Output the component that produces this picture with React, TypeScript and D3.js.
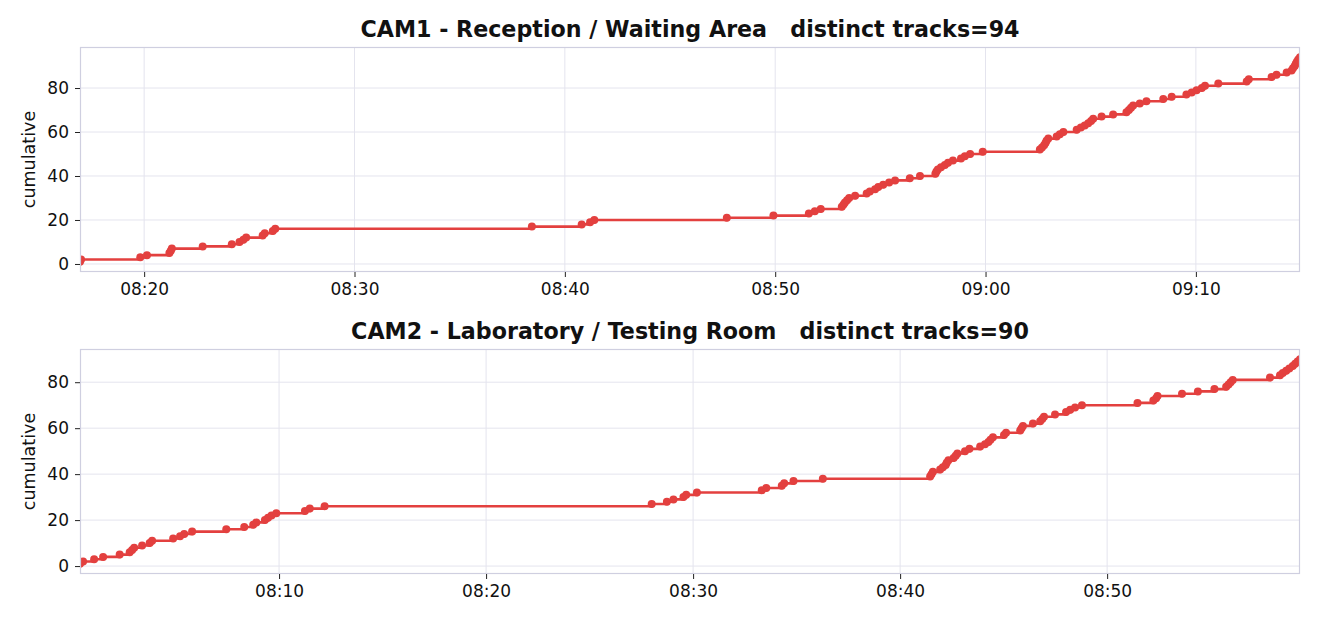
import { useEffect, useRef } from 'react';
import * as d3 from 'd3';

// event times (cumulative count = index + 1)
const CAM1_TITLE = 'CAM1 - Reception / Waiting Area   distinct tracks=94';
const CAM1_TIMES = [
  '08:16:57', '08:17:00', '08:19:49', '08:20:08', '08:21:12', '08:21:16', '08:21:19', '08:22:47',
  '08:24:10', '08:24:32', '08:24:43', '08:24:51', '08:25:38', '08:25:44', '08:26:07', '08:26:14',
  '08:38:26', '08:40:48', '08:41:12', '08:41:24', '08:47:42', '08:49:55', '08:51:36', '08:51:53',
  '08:52:10', '08:53:10', '08:53:15', '08:53:19', '08:53:25', '08:53:31', '08:53:48', '08:54:21',
  '08:54:30', '08:54:45', '08:54:54', '08:55:08', '08:55:25', '08:55:42', '08:56:24', '08:56:53',
  '08:57:37', '08:57:40', '08:57:44', '08:57:53', '08:58:04', '08:58:13', '08:58:27', '08:58:50',
  '08:59:01', '08:59:16', '08:59:52', '09:02:35', '09:02:41', '09:02:47', '09:02:51', '09:02:54',
  '09:02:59', '09:03:23', '09:03:32', '09:03:42', '09:04:20', '09:04:32', '09:04:43', '09:04:53',
  '09:05:01', '09:05:07', '09:05:31', '09:06:04', '09:06:42', '09:06:49', '09:06:55', '09:07:01',
  '09:07:20', '09:07:39', '09:08:27', '09:08:51', '09:09:33', '09:09:48', '09:10:02', '09:10:17',
  '09:10:26', '09:11:04', '09:12:25', '09:12:31', '09:13:36', '09:13:50', '09:14:19', '09:14:33',
  '09:14:37', '09:14:42', '09:14:45', '09:14:48', '09:14:52', '09:14:57',
];

const CAM2_TITLE = 'CAM2 - Laboratory / Testing Room   distinct tracks=90';
const CAM2_TIMES = [
  '08:00:23', '08:00:32', '08:01:04', '08:01:30', '08:02:18', '08:02:47', '08:02:54', '08:03:00',
  '08:03:23', '08:03:45', '08:03:52', '08:04:53', '08:05:13', '08:05:25', '08:05:48', '08:07:27',
  '08:08:19', '08:08:45', '08:08:54', '08:09:19', '08:09:28', '08:09:38', '08:09:52', '08:11:15',
  '08:11:29', '08:12:12', '08:28:00', '08:28:44', '08:29:03', '08:29:32', '08:29:40', '08:30:11',
  '08:33:19', '08:33:32', '08:34:17', '08:34:24', '08:34:51', '08:36:16', '08:41:27', '08:41:31',
  '08:41:35', '08:41:56', '08:42:04', '08:42:12', '08:42:15', '08:42:20', '08:42:35', '08:42:41',
  '08:42:46', '08:43:08', '08:43:21', '08:43:52', '08:44:06', '08:44:16', '08:44:22', '08:44:29',
  '08:45:01', '08:45:07', '08:45:48', '08:45:52', '08:45:56', '08:46:25', '08:46:46', '08:46:52',
  '08:46:57', '08:47:29', '08:48:01', '08:48:13', '08:48:27', '08:48:47', '08:51:28', '08:52:14',
  '08:52:22', '08:52:26', '08:53:37', '08:54:23', '08:55:11', '08:55:45', '08:55:52', '08:55:58',
  '08:56:04', '08:57:52', '08:58:21', '08:58:29', '08:58:39', '08:58:48', '08:58:58', '08:59:05',
  '08:59:12', '08:59:19',
];

const Y_TICKS = [0, 20, 40, 60, 80];
const Y_LABEL = 'cumulative';

const WIDTH = 1320;
const HEIGHT = 624;
const LINE_COLOR = '#e3403f';
const FONT = '"DejaVu Sans", Verdana, sans-serif';

interface Pt {
  time: Date;
  count: number;
}

const parseTime = d3.timeParse('%H:%M:%S');

function drawPanel(
  svg: d3.Selection<SVGSVGElement, unknown, null, undefined>,
  id: string,
  title: string,
  times: string[],
  box: { x: number; y: number; w: number; h: number },
) {
  const data: Pt[] = times.map((t, i) => ({ time: parseTime(t) as Date, count: i + 1 }));

  const x = d3.scaleTime()
    .domain(d3.extent(data, d => d.time) as [Date, Date])
    .range([box.x, box.x + box.w]);

  const minC = 1;
  const maxC = data.length;
  const pad = (maxC - minC) * 0.05;
  const y = d3.scaleLinear()
    .domain([minC - pad, maxC + pad])
    .range([box.y + box.h, box.y]);

  const g = svg.append('g');

  g.append('clipPath')
    .attr('id', `clip-${id}`)
    .append('rect')
    .attr('x', box.x)
    .attr('y', box.y)
    .attr('width', box.w)
    .attr('height', box.h);

  // grid
  const xTicks = x.ticks(d3.timeMinute.every(10) as d3.TimeInterval);
  g.selectAll('line.gx')
    .data(xTicks)
    .join('line')
    .attr('x1', d => x(d)).attr('x2', d => x(d))
    .attr('y1', box.y).attr('y2', box.y + box.h)
    .attr('stroke', '#e4e4ee')
    .attr('stroke-width', 1);
  g.selectAll('line.gy')
    .data(Y_TICKS)
    .join('line')
    .attr('x1', box.x).attr('x2', box.x + box.w)
    .attr('y1', d => y(d)).attr('y2', d => y(d))
    .attr('stroke', '#e4e4ee')
    .attr('stroke-width', 1);

  // step line + dots
  const line = d3.line<Pt>()
    .x(d => x(d.time))
    .y(d => y(d.count))
    .curve(d3.curveStepAfter);

  const plot = g.append('g').attr('clip-path', `url(#clip-${id})`);
  plot.append('path')
    .datum(data)
    .attr('d', line)
    .attr('fill', 'none')
    .attr('stroke', LINE_COLOR)
    .attr('stroke-width', 2.6);
  plot.selectAll('circle')
    .data(data)
    .join('circle')
    .attr('cx', d => x(d.time))
    .attr('cy', d => y(d.count))
    .attr('r', 4)
    .attr('fill', LINE_COLOR);

  // frame
  g.append('rect')
    .attr('x', box.x + 0.5).attr('y', box.y + 0.5)
    .attr('width', box.w - 1).attr('height', box.h - 1)
    .attr('fill', 'none')
    .attr('stroke', '#cfcfe0')
    .attr('stroke-width', 1.2);

  // x axis
  const xAxis = d3.axisBottom(x)
    .tickValues(xTicks)
    .tickFormat(d3.timeFormat('%H:%M') as any)
    .tickSize(5)
    .tickPadding(6);
  const gx = g.append('g')
    .attr('transform', `translate(0,${box.y + box.h})`)
    .call(xAxis);
  gx.select('.domain').remove();
  gx.selectAll('line').attr('stroke', '#222');
  gx.selectAll('text')
    .attr('font-family', FONT)
    .attr('font-size', 17)
    .attr('fill', '#111');

  // y axis
  const yAxis = d3.axisLeft(y)
    .tickValues(Y_TICKS)
    .tickSize(5)
    .tickPadding(6);
  const gy = g.append('g')
    .attr('transform', `translate(${box.x},0)`)
    .call(yAxis);
  gy.select('.domain').remove();
  gy.selectAll('line').attr('stroke', '#222');
  gy.selectAll('text')
    .attr('font-family', FONT)
    .attr('font-size', 17)
    .attr('fill', '#111');

  g.append('text')
    .attr('transform', `translate(${box.x - 45},${box.y + box.h / 2}) rotate(-90)`)
    .attr('text-anchor', 'middle')
    .attr('font-family', FONT)
    .attr('font-size', 17.5)
    .attr('fill', '#111')
    .text(Y_LABEL);

  g.append('text')
    .attr('x', box.x + box.w / 2)
    .attr('y', box.y - 10)
    .attr('text-anchor', 'middle')
    .attr('font-family', FONT)
    .attr('font-weight', 'bold')
    .attr('font-size', 22.2)
    .attr('fill', '#111')
    .attr('xml:space', 'preserve')
    .style('white-space', 'pre')
    .text(title);
}

export default function App() {
  const svgRef = useRef<SVGSVGElement>(null);

  useEffect(() => {
    if (!svgRef.current) return;
    const svg = d3.select(svgRef.current);
    svg.selectAll('*').remove();

    drawPanel(svg, 'cam1', CAM1_TITLE, CAM1_TIMES, { x: 80, y: 47, w: 1220, h: 225 });
    drawPanel(svg, 'cam2', CAM2_TITLE, CAM2_TIMES, { x: 80, y: 349, w: 1220, h: 225 });
  }, []);

  return (
    <div style={{ position: 'absolute', left: 0, top: 0, width: WIDTH, height: HEIGHT, background: '#fff' }}>
      <svg ref={svgRef} width={WIDTH} height={HEIGHT} viewBox={`0 0 ${WIDTH} ${HEIGHT}`} />
    </div>
  );
}
